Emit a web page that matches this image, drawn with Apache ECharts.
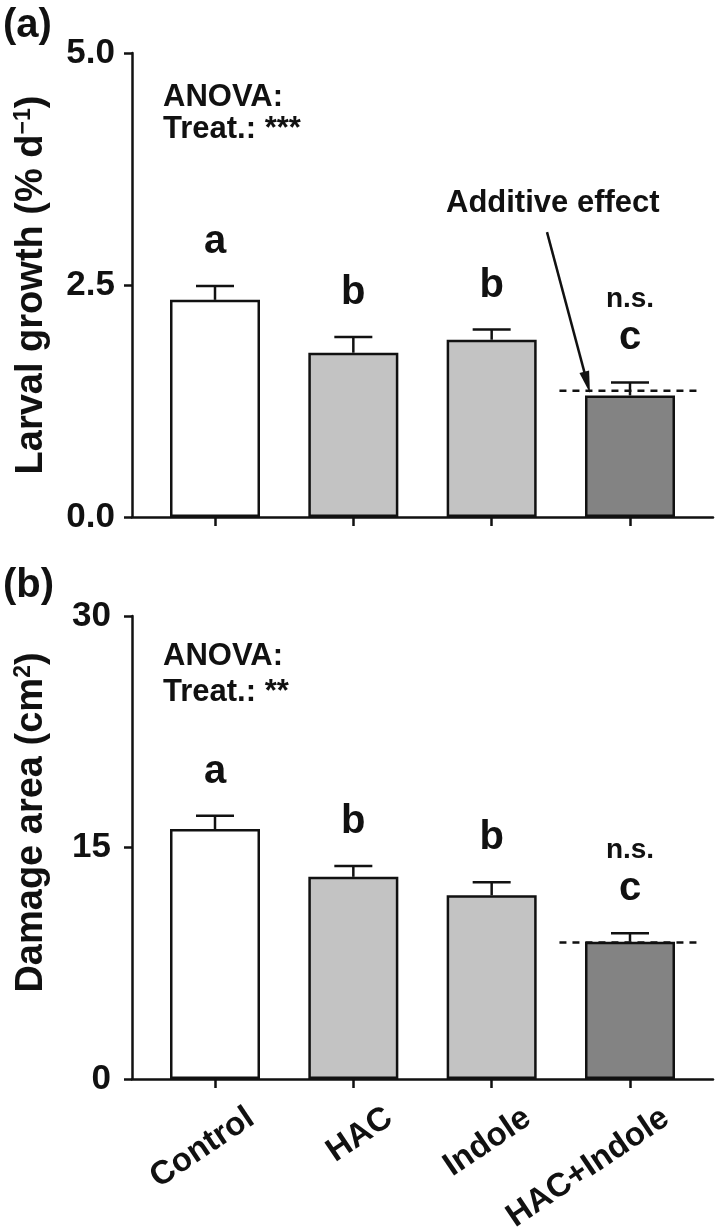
<!DOCTYPE html>
<html><head><meta charset="utf-8">
<script src="https://cdn.jsdelivr.net/npm/echarts@6/dist/echarts.min.js"></script>
<style>html,body{margin:0;padding:0;background:#fff}#c{width:718px;height:1228px}</style>
</head><body><div id="c"></div>
<script>
// ---------- data ----------
const categories = ['Control', 'HAC', 'Indole', 'HAC+Indole'];
const growthMean = [2.34, 1.77, 1.91, 1.31];
const growthSE = [0.15, 0.17, 0.11, 0.14];
const growthAdditive = 1.36;
const damageMean = [16.2, 13.1, 11.9, 8.9];
const damageSE = [0.85, 0.7, 0.85, 0.55];
const damageAdditive = 8.85;
const letters = ['a', 'b', 'b', 'c'];
const sigVsAdditive = ['', '', '', 'n.s.'];
const growthTicks = [0, 2.5, 5.0];
const damageTicks = [0, 15, 30];
const arrowFrom = [2.40, 3.07];
const arrowTo = [2.69, 1.45];

// ---------- style ----------
const INK = '#111111';
const FONT = '"Liberation Sans", Arial, Helvetica, sans-serif';
const barColors = ['#ffffff', '#c3c3c3', '#c3c3c3', '#838383'];
const LW = 2.5;

const chart = echarts.init(document.getElementById('c'), null, {renderer: 'canvas'});

const richTitle = {
  m: {fontSize: 38, fontWeight: 'bold', fontFamily: FONT, color: INK, lineHeight: 40},
  s: {fontSize: 23, fontWeight: 'bold', fontFamily: FONT, color: INK, verticalAlign: 'top', lineHeight: 40}
};

function xAxis(gi) {
  return {
    type: 'value', gridIndex: gi, min: -0.6, max: 3.6,
    axisLine: {show: true, onZero: false, lineStyle: {color: INK, width: LW}},
    axisTick: {show: true, customValues: [0, 1, 2, 3], length: 9, inside: false, lineStyle: {color: INK, width: LW}},
    axisLabel: {show: false},
    splitLine: {show: false}
  };
}
function yAxis(gi, ticks, dec, nameStr, margin, namePad) {
  return {
    type: 'value', gridIndex: gi, min: ticks[0], max: ticks[ticks.length - 1],
    interval: ticks[1] - ticks[0],
    axisLine: {show: true, onZero: false, lineStyle: {color: INK, width: LW}},
    axisTick: {show: true, length: 8, lineStyle: {color: INK, width: LW}},
    axisLabel: {margin: margin, fontSize: 35, fontWeight: 'bold', fontFamily: FONT, color: INK,
      formatter: v => v.toFixed(dec)},
    splitLine: {show: false},
    name: nameStr, nameLocation: 'middle', nameRotate: 90, nameGap: 80,
    nameTextStyle: {rich: richTitle, padding: namePad}
  };
}

function barSeries(gi, means, extra) {
  return Object.assign({
    type: 'bar', xAxisIndex: gi, yAxisIndex: gi, barWidth: 90, z: 2,
    data: means.map((m, i) => ({value: [i, m], itemStyle: {color: barColors[i]}})),
    itemStyle: {borderColor: INK, borderWidth: LW},
    animation: false
  }, extra || {});
}
function errorSeries(gi, means, ses) {
  return {
    type: 'custom', xAxisIndex: gi, yAxisIndex: gi, clip: false, z: 3, animation: false,
    data: means.map((m, i) => [i, m, ses[i]]),
    renderItem(params, api) {
      const i = api.value(0), m = api.value(1), s = api.value(2);
      const b = api.coord([i, m]), t = api.coord([i, m + s]);
      const hw = 19;
      return {type: 'group', children: [
        {type: 'line', shape: {x1: b[0], y1: b[1], x2: t[0], y2: t[1]}, style: {stroke: INK, lineWidth: LW}},
        {type: 'line', shape: {x1: t[0] - hw, y1: t[1], x2: t[0] + hw, y2: t[1]}, style: {stroke: INK, lineWidth: LW}}
      ]};
    }
  };
}
function letterSeries(gi, means, ses) {
  return {
    type: 'custom', xAxisIndex: gi, yAxisIndex: gi, clip: false, z: 4, animation: false,
    data: means.map((m, i) => [i, m + ses[i]]),
    renderItem(params, api) {
      const i = params.dataIndex;
      const p = api.coord([api.value(0), api.value(1)]);
      const children = [{type: 'text', x: p[0], y: p[1] - 24,
        style: {text: letters[i], fill: INK, fontSize: 40, fontWeight: 'bold', fontFamily: FONT,
          align: 'center', verticalAlign: 'bottom'}}];
      if (sigVsAdditive[i]) {
        children.push({type: 'text', x: p[0], y: p[1] - 69,
          style: {text: sigVsAdditive[i], fill: INK, fontSize: 28, fontWeight: 'bold', fontFamily: FONT,
            align: 'center', verticalAlign: 'bottom'}});
      }
      return {type: 'group', children};
    }
  };
}
function additiveSeries(gi, v) {
  return {
    type: 'custom', xAxisIndex: gi, yAxisIndex: gi, clip: false, z: 5, animation: false,
    data: [[3, v]],
    renderItem(params, api) {
      const a = api.coord([api.value(0) - 0.51, api.value(1)]);
      const b = api.coord([api.value(0) + 0.51, api.value(1)]);
      return {type: 'line', shape: {x1: a[0], y1: a[1], x2: b[0], y2: b[1]},
        style: {stroke: INK, lineWidth: LW, lineDash: [7, 6]}};
    }
  };
}
const xLabelSeries = {
  type: 'custom', xAxisIndex: 1, yAxisIndex: 1, clip: false, z: 5, animation: false,
  data: categories.map((c, i) => [i, 0]),
  renderItem(params, api) {
    const p = api.coord([api.value(0), api.value(1)]);
    return {type: 'text', x: p[0] + 36, y: p[1] + 36, rotation: 34 * Math.PI / 180,
      style: {text: categories[params.dataIndex], fill: INK, fontSize: 33, fontWeight: 'bold',
        fontFamily: FONT, align: 'right', verticalAlign: 'middle'}};
  }
};

const txt = (left, top, text, size) => ({type: 'text', left, top,
  style: {text, fill: INK, fontSize: size, fontWeight: 'bold', fontFamily: FONT}});

chart.setOption({
  animation: false,
  backgroundColor: '#ffffff',
  grid: [
    {left: 132, right: 5, top: 53, height: 464},
    {left: 132, right: 5, top: 616, height: 463}
  ],
  xAxis: [xAxis(0), xAxis(1)],
  yAxis: [
    yAxis(0, growthTicks, 1, '{m|Larval growth (% d}{s|−1}{m|)}', 17, 0),
    yAxis(1, damageTicks, 0, '{m|Damage area (cm}{s|2}{m|)}', 21, [0, 0, 0, 50])
  ],
  series: [
    barSeries(0, growthMean, {
      markLine: {silent: true, symbol: ['none', 'triangle'], symbolSize: [10, 22], label: {show: false},
        lineStyle: {color: INK, width: LW, type: 'solid'}, animation: false,
        data: [[{coord: arrowFrom}, {coord: arrowTo}]]}
    }),
    errorSeries(0, growthMean, growthSE),
    letterSeries(0, growthMean, growthSE),
    additiveSeries(0, growthAdditive),
    barSeries(1, damageMean),
    errorSeries(1, damageMean, damageSE),
    letterSeries(1, damageMean, damageSE),
    additiveSeries(1, damageAdditive),
    xLabelSeries
  ],
  graphic: [
    txt(3, 6, '(a)', 40),
    txt(3, 566, '(b)', 40),
    txt(163, 82, 'ANOVA:', 31),
    txt(163, 114, 'Treat.: ***', 31),
    txt(163, 641, 'ANOVA:', 31),
    txt(163, 677, 'Treat.: **', 31),
    txt(446, 188, 'Additive effect', 31)
  ]
});
</script></body></html>
